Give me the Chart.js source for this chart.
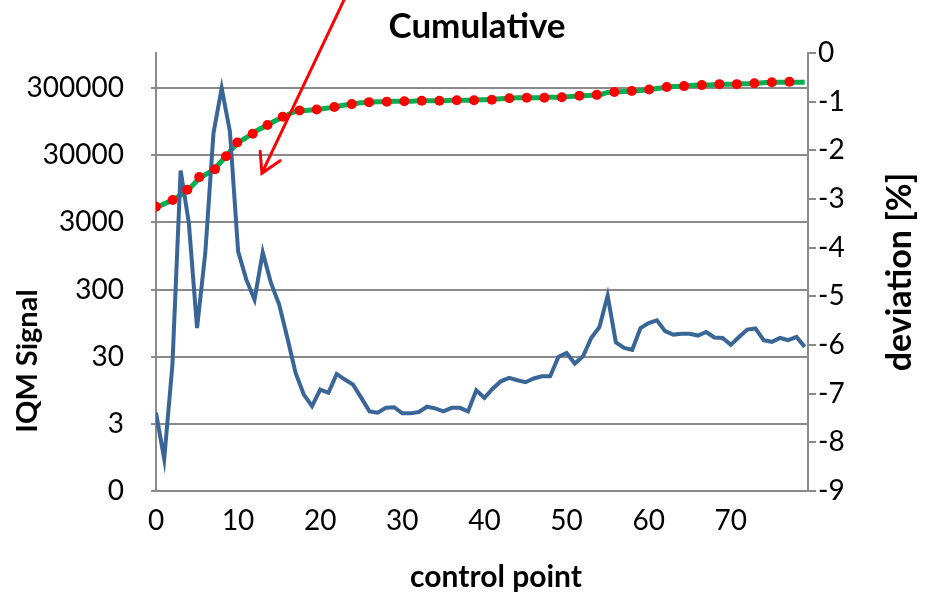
<!DOCTYPE html>
<html>
<head>
<meta charset="utf-8">
<script src="https://cdn.jsdelivr.net/npm/chart.js@4.4.1/dist/chart.umd.min.js"></script>
<style>
  html, body { margin: 0; padding: 0; background: #ffffff; }
  #wrap { width: 926px; height: 594px; position: relative; }
</style>
</head>
<body>
<div id="wrap"><canvas id="c" width="926" height="594"></canvas></div>
<script>
// ---- data ----
const chartTitle = 'Cumulative';
const xTitle = 'control point';
const leftTitle = 'IQM Signal';
const rightTitle = 'deviation [%]';

const xTickValues = [0, 10, 20, 30, 40, 50, 60, 70];
const leftTickValues = [0.3, 3, 30, 300, 3000, 30000, 300000];
const leftTickLabels = ['0', '3', '30', '300', '3000', '30000', '300000'];
const rightTickValues = [-9, -8, -7, -6, -5, -4, -3, -2, -1, 0];

// control point index 0..79
const controlPoints = [
  0,1,2,3,4,5,6,7,8,9,10,11,12,13,14,15,16,17,18,19,
  20,21,22,23,24,25,26,27,28,29,30,31,32,33,34,35,36,37,38,39,
  40,41,42,43,44,45,46,47,48,49,50,51,52,53,54,55,56,57,58,59,
  60,61,62,63,64,65,66,67,68,69,70,71,72,73,74,75,76,77,78,79
];

// IQM signal (left, log axis)
const iqmSignal = [
  4.4, 0.9, 22.9, 17800, 2940, 80, 1050, 64100, 300000, 67800,
  1110, 421, 212, 1074, 376, 179, 57, 17.2, 8.2, 5.5,
  9.7, 8.7, 16.6, 13.7, 11.5, 7.3, 4.6, 4.4, 5.2, 5.3,
  4.3, 4.3, 4.5, 5.4, 5.1, 4.6, 5.2, 5.2, 4.6, 9.5,
  7.3, 10, 12.9, 14.5, 13.4, 12.5, 14.2, 15.3, 15.3, 29.8,
  34, 23.7, 30.4, 57, 83, 244, 49, 40.5, 38, 80,
  95, 104, 72, 64, 66, 66, 62, 70, 58, 57,
  45, 59, 76, 79, 53, 50, 57, 53, 59, 42
];

// cumulative deviation, green line (right axis, %)
const cumulativeLine = [
  -3.18, -3.10, -3.02, -2.92, -2.80, -2.62, -2.50, -2.40, -2.22, -2.02,
  -1.84, -1.74, -1.62, -1.53, -1.44, -1.35, -1.27, -1.20, -1.18, -1.17,
  -1.15, -1.13, -1.10, -1.07, -1.04, -1.02, -1.01, -1.00, -1.00, -0.99,
  -0.99, -0.99, -0.98, -0.98, -0.98, -0.98, -0.97, -0.97, -0.97, -0.96,
  -0.96, -0.95, -0.94, -0.93, -0.92, -0.92, -0.92, -0.92, -0.91, -0.91,
  -0.90, -0.89, -0.88, -0.87, -0.86, -0.81, -0.80, -0.79, -0.78, -0.77,
  -0.75, -0.73, -0.71, -0.69, -0.68, -0.67, -0.66, -0.66, -0.65, -0.64,
  -0.64, -0.63, -0.63, -0.62, -0.61, -0.60, -0.60, -0.60, -0.60, -0.60
];

// cumulative deviation, red dots (right axis, %)
const dotX = [
  0, 2.03, 3.81, 5.27, 7.19, 8.53, 9.90, 11.78, 13.58, 15.43,
  17.48, 19.57, 21.72, 23.84, 25.94, 28.10, 30.24, 32.36, 34.51, 36.63,
  38.73, 40.89, 43.03, 45.15, 47.30, 49.42, 51.56, 53.68, 55.82, 57.94,
  60.05, 62.20, 64.31, 66.47, 68.61, 70.73, 72.87, 74.99, 77.14
];
const dotY = [
  -3.16, -3.02, -2.81, -2.55, -2.39, -2.12, -1.84, -1.66, -1.48, -1.31,
  -1.18, -1.16, -1.11, -1.05, -1.01, -1.00, -0.99, -0.98, -0.98, -0.97,
  -0.97, -0.96, -0.93, -0.92, -0.92, -0.91, -0.88, -0.86, -0.80, -0.78,
  -0.75, -0.70, -0.68, -0.66, -0.64, -0.64, -0.62, -0.60, -0.59
];

// red arrow annotation (x: control point, y: right axis %)
const arrowTail = { x: 22.9, y: 1.09 };
const arrowTip = { x: 12.9, y: -2.47 };

// ---- chart ----
const FONT = 'Lato, "Open Sans", "DejaVu Sans", sans-serif';
const GRID = '#8a8a8a';

const blueData = controlPoints.map((x, i) => ({ x: x, y: iqmSignal[i] }));
const greenData = controlPoints.map((x, i) => ({ x: x, y: cumulativeLine[i] }));
const redData = dotX.map((x, i) => ({ x: x, y: dotY[i] }));

const extras = {
  id: 'extras',
  beforeDraw(chart) {
    const ctx = chart.ctx;
    ctx.save();
    ctx.fillStyle = '#ffffff';
    ctx.fillRect(0, 0, chart.width, chart.height);
    ctx.restore();
  },
  afterDraw(chart) {
    const ctx = chart.ctx;
    const a = chart.chartArea;
    const xs = chart.scales.x, yr = chart.scales.yR;
    ctx.save();
    ctx.fillStyle = '#000';
    ctx.textAlign = 'center';
    ctx.textBaseline = 'middle';
    // chart title
    ctx.font = 'bold 35px ' + FONT;
    ctx.fillText(chartTitle, 477, 27);
    // x title
    ctx.font = 'bold 30px ' + FONT;
    ctx.fillText(xTitle, 496, 577);
    // left title
    ctx.save();
    ctx.font = 'bold 29px ' + FONT;
    ctx.translate(28, 361);
    ctx.rotate(-Math.PI / 2);
    ctx.fillText(leftTitle, 0, 0);
    ctx.restore();
    // right title
    ctx.save();
    ctx.font = 'bold 34px ' + FONT;
    ctx.translate(900, (a.top + a.bottom) / 2);
    ctx.rotate(-Math.PI / 2);
    ctx.fillText(rightTitle, 0, 0);
    ctx.restore();

    // red arrow
    const tx = xs.getPixelForValue(arrowTip.x), ty = yr.getPixelForValue(arrowTip.y);
    const sx = xs.getPixelForValue(arrowTail.x), sy = yr.getPixelForValue(arrowTail.y);
    ctx.strokeStyle = '#ff0000';
    ctx.lineWidth = 3;
    ctx.lineCap = 'round';
    ctx.beginPath();
    ctx.moveTo(sx, sy);
    ctx.lineTo(tx, ty);
    const ang = Math.atan2(sy - ty, sx - tx);
    const L = 22, spread = Math.PI / 6;
    ctx.moveTo(tx + L * Math.cos(ang + spread), ty + L * Math.sin(ang + spread));
    ctx.lineTo(tx, ty);
    ctx.lineTo(tx + L * Math.cos(ang - spread), ty + L * Math.sin(ang - spread));
    ctx.stroke();
    ctx.restore();
  }
};

new Chart(document.getElementById('c'), {
  type: 'scatter',
  data: {
    datasets: [
      {
        label: 'IQM Signal',
        data: blueData,
        yAxisID: 'yL',
        showLine: true,
        borderColor: '#3a6597',
        borderWidth: 4,
        pointRadius: 0,
        tension: 0,
        order: 1
      },
      {
        label: 'Cumulative',
        data: greenData,
        yAxisID: 'yR',
        showLine: true,
        borderColor: '#00b050',
        borderWidth: 5,
        pointRadius: 0,
        tension: 0.2,
        order: 2
      },
      {
        label: 'Cumulative points',
        data: redData,
        yAxisID: 'yR',
        showLine: false,
        pointRadius: 5,
        pointBackgroundColor: '#ff0000',
        pointBorderColor: '#ff0000',
        pointBorderWidth: 0,
        order: 0
      }
    ]
  },
  options: {
    responsive: false,
    animation: false,
    devicePixelRatio: 1,
    layout: { padding: { top: 53, left: 0, right: 0, bottom: 0 } },
    plugins: {
      legend: { display: false },
      tooltip: { enabled: false },
      title: { display: false }
    },
    scales: {
      x: {
        type: 'linear',
        min: 0,
        max: 79.4,
        afterFit(s) { s.height = 103; },
        afterBuildTicks(s) { s.ticks = xTickValues.map(v => ({ value: v })); },
        grid: { display: false, drawTicks: false },
        border: { display: true, color: GRID, width: 2 },
        ticks: {
          color: '#000',
          font: { family: FONT, size: 28 },
          padding: 13,
          maxRotation: 0,
          autoSkip: false,
          callback: (v) => String(v)
        }
      },
      yL: {
        type: 'logarithmic',
        position: 'left',
        min: 0.3,
        max: 1000000,
        afterFit(s) { s.width = 156; },
        afterBuildTicks(s) { s.ticks = leftTickValues.map(v => ({ value: v })); },
        grid: { color: GRID, lineWidth: 2, tickLength: 5, drawTicks: true },
        border: { display: true, color: GRID, width: 2 },
        ticks: {
          color: '#000',
          font: { family: FONT, size: 28 },
          padding: 27,
          autoSkip: false,
          callback: (v) => {
            const i = leftTickValues.indexOf(v);
            return i >= 0 ? leftTickLabels[i] : '';
          }
        }
      },
      yR: {
        type: 'linear',
        position: 'right',
        min: -9,
        max: 0,
        afterFit(s) { s.width = 118; },
        afterBuildTicks(s) { s.ticks = rightTickValues.map(v => ({ value: v })); },
        grid: { drawOnChartArea: false, color: GRID, lineWidth: 2, tickLength: 8, drawTicks: true },
        border: { display: true, color: GRID, width: 2 },
        ticks: {
          color: '#000',
          font: { family: FONT, size: 28 },
          padding: 2,
          autoSkip: false,
          callback: (v) => String(v)
        }
      }
    }
  },
  plugins: [extras]
});
</script>
</body>
</html>
